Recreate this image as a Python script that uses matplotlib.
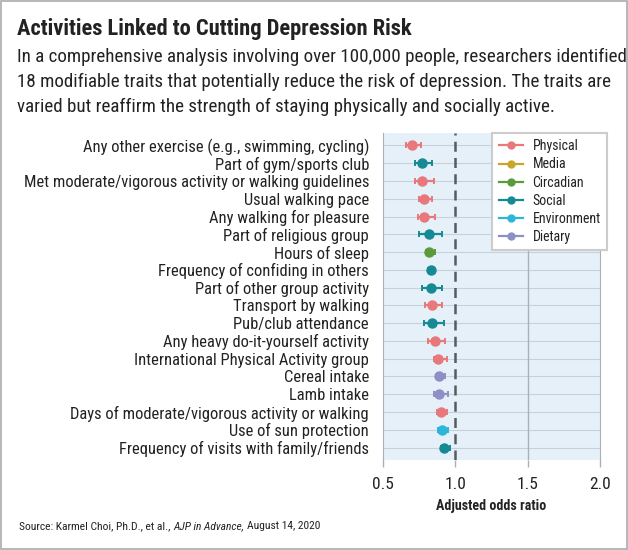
import matplotlib
matplotlib.use("Agg")
import matplotlib.pyplot as plt
from matplotlib.lines import Line2D
from matplotlib.patches import Rectangle

# condensed face first, plain Roboto if it is missing
plt.rcParams["font.family"] = ["Roboto Condensed", "Roboto", "DejaVu Sans"]

# data
traits = [
    "Any other exercise (e.g., swimming, cycling)",
    "Part of gym/sports club",
    "Met moderate/vigorous activity or walking guidelines",
    "Usual walking pace",
    "Any walking for pleasure",
    "Part of religious group",
    "Hours of sleep",
    "Frequency of confiding in others",
    "Part of other group activity",
    "Transport by walking",
    "Pub/club attendance",
    "Any heavy do-it-yourself activity",
    "International Physical Activity group",
    "Cereal intake",
    "Lamb intake",
    "Days of moderate/vigorous activity or walking",
    "Use of sun protection",
    "Frequency of visits with family/friends",
]
domain = [
    "Physical", "Social", "Physical", "Physical", "Physical", "Social",
    "Circadian", "Social", "Social", "Physical", "Social", "Physical",
    "Physical", "Dietary", "Dietary", "Physical", "Environment", "Social",
]
odds = [0.70, 0.77, 0.77, 0.78, 0.785, 0.82, 0.82, 0.83, 0.83, 0.84,
        0.84, 0.86, 0.88, 0.89, 0.89, 0.90, 0.905, 0.92]
ci_low = [0.66, 0.72, 0.72, 0.75, 0.74, 0.75, 0.80, 0.81, 0.77, 0.79,
          0.78, 0.81, 0.85, 0.87, 0.85, 0.87, 0.88, 0.90]
ci_high = [0.76, 0.84, 0.85, 0.84, 0.86, 0.91, 0.86, 0.85, 0.91, 0.91,
           0.92, 0.93, 0.94, 0.93, 0.95, 0.94, 0.95, 0.96]

domains = ["Physical", "Media", "Circadian", "Social", "Environment", "Dietary"]
colors = {
    "Physical": "#e8787c",
    "Media": "#c9a62a",
    "Circadian": "#5b9a3c",
    "Social": "#168a94",
    "Environment": "#2db6d8",
    "Dietary": "#8e8fc4",
}
TXT = "#222222"
W, H = 628, 550

fig = plt.figure(figsize=(W / 100, H / 100), dpi=100)
renderer = fig.canvas.get_renderer()


def fit_width(text, target_px):
    """Scale the font size of a text so its widest line spans target_px."""
    lines = text.get_text().split("\n")
    if len(lines) > 1:
        probe = fig.text(0, 0, max(lines, key=len), fontsize=text.get_fontsize(),
                         fontweight=text.get_fontweight(), style=text.get_style())
        w = probe.get_window_extent(renderer).width
        probe.remove()
    else:
        w = text.get_window_extent(renderer).width
    text.set_fontsize(text.get_fontsize() * target_px / w)


fig.patches.append(Rectangle((0.001, 0.001), 0.997, 0.997, transform=fig.transFigure,
                             fill=False, ec="#aaaaaa", lw=1.2))

title = fig.text(17 / W, 1 - 35 / H, "Activities Linked to Cutting Depression Risk",
                 fontsize=17, fontweight="bold", va="baseline", ha="left", color=TXT)
fit_width(title, 396)

subtitle = ("In a comprehensive analysis involving over 100,000 people, researchers identified\n"
            "18 modifiable traits that potentially reduce the risk of depression. The traits are\n"
            "varied but reaffirm the strength of staying physically and socially active.")
sub = fig.text(17 / W, 1 - 82 / H, subtitle, fontsize=14, va="center", ha="left",
               color=TXT, linespacing=1.52)
fit_width(sub, 596)

ax = fig.add_axes([383 / W, 90 / H, 217 / W, 327 / H])
ax.set_facecolor("#e6f0f9")

ys = list(range(len(traits)))
for y in ys:
    ax.axhline(y, color="#c8d1da", lw=0.8, zorder=1)
ax.axvline(1.5, color="#a8b0b8", lw=1, zorder=1)
ax.axvline(1.0, color="#555b63", lw=1.8, ls=(0, (4, 2.5)), zorder=2)

for y, o, lo, hi, d in zip(ys, odds, ci_low, ci_high, domain):
    ax.errorbar(o, y, xerr=[[o - lo], [hi - o]], fmt="o", color=colors[d],
                ms=6.5, elinewidth=1.6, capsize=2, capthick=1.4, zorder=3)

ax.set_xlim(0.5, 2.0)
ax.set_ylim(17.7, -0.7)
ax.set_yticks(ys)
ax.set_yticklabels(traits, fontsize=10.5, color=TXT)
ax.set_xticks([0.5, 1.0, 1.5, 2.0])
ax.set_xticklabels(["0.5", "1.0", "1.5", "2.0"], fontsize=12.5, color=TXT)
ax.tick_params(axis="y", length=0, pad=10)
ax.tick_params(axis="x", length=5, width=1, color="#a8b0b8", pad=7)
for side in ["top", "bottom"]:
    ax.spines[side].set_visible(False)
for side in ["left", "right"]:
    ax.spines[side].set_color("#a8b0b8")

# fit the tick label size to the longest label
longest = ax.get_yticklabels()[2]
fig.canvas.draw()
w = longest.get_window_extent(renderer).width
ax.tick_params(axis="y", labelsize=10.5 * 349 / w)

ax.set_xlabel("Adjusted odds ratio", fontsize=11, fontweight="bold", labelpad=5, color=TXT)
fig.canvas.draw()
fit_width(ax.xaxis.label, 109)

handles = [Line2D([0], [0], color=colors[d], marker="o", ms=5, lw=1.6) for d in domains]
leg = ax.legend(handles, domains, loc="upper right", bbox_to_anchor=(1.032, 1.0),
                fontsize=10, frameon=True, fancybox=False, edgecolor="#cccccc",
                handlelength=1.75, handletextpad=0.7, borderpad=0.45, labelspacing=0.3,
                borderaxespad=0, framealpha=1)
leg.get_frame().set_linewidth(1.5)
for t in leg.get_texts():
    t.set_color(TXT)

# source line: plain, italic journal, plain date
src_y = 1 - 526 / H
parts = [("Source: Karmel Choi, Ph.D., et al.,", "normal", 3),
         ("AJP in Advance,", "italic", 3),
         ("August 14, 2020", "normal", 0)]
pieces = []
for s, st, gap in parts:
    t = fig.text(0, src_y, s, fontsize=10, style=st, va="center", ha="left", color=TXT)
    pieces.append((t, gap))


def place_source(scale):
    x = 19
    for t, gap in pieces:
        t.set_fontsize(t.get_fontsize() * scale)
        t.set_x(x / W)
        x = t.get_window_extent(renderer).x1 + gap
    return x - 19


total = place_source(1.0)
place_source(298 / total)

fig.savefig("out.png", dpi=100)
